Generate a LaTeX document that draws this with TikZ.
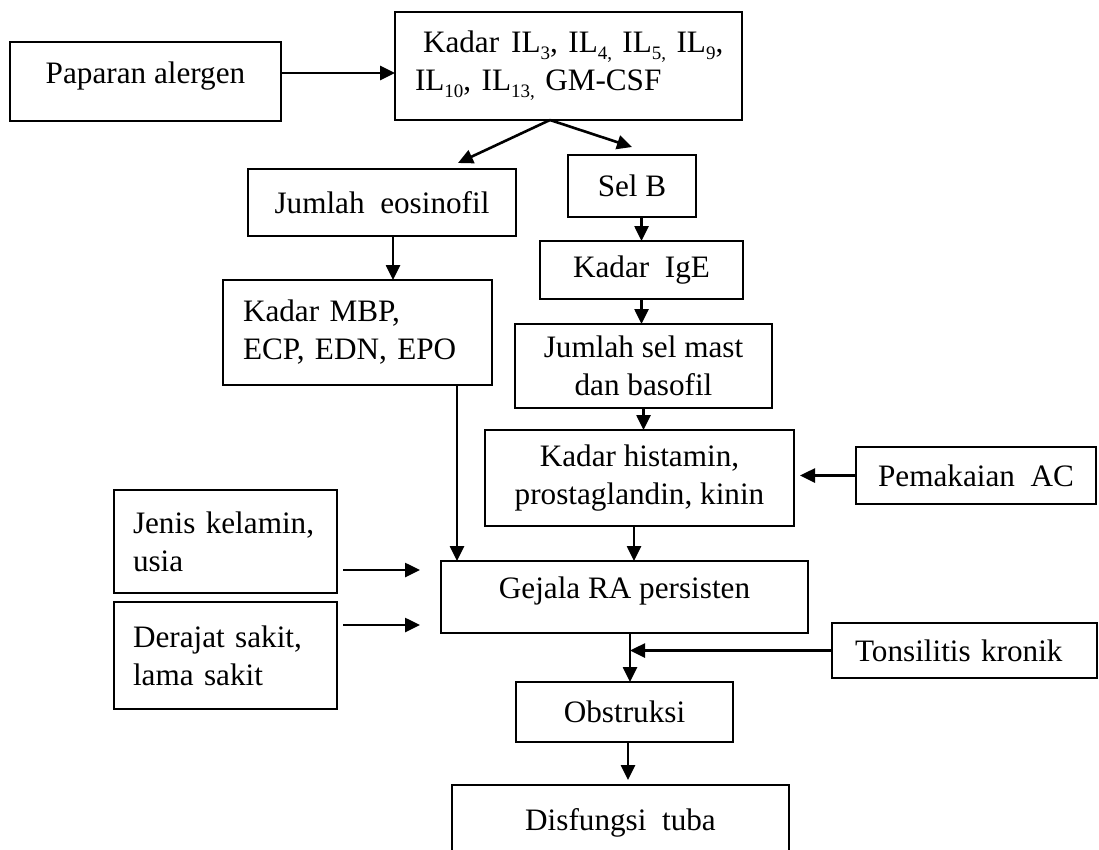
\documentclass[tikz,border=0pt]{standalone}
\usepackage{fontspec}
\setmainfont{Liberation Serif}
\usetikzlibrary{arrows.meta}
\newcommand{\ilsub}[1]{IL\raisebox{-0.22em}{\fontsize{19}{19}\selectfont #1}}

\begin{document}
\begin{tikzpicture}[x=1pt, y=-1pt,
                  every node/.style={font=\fontsize{31.2}{38}\selectfont, outer sep=0pt},
                  bx/.style={draw, line width=2.6pt, anchor=north west, inner sep=0pt},
                  lft/.style={bx, align=left},
                  arr/.style={-{Triangle[length=15pt, width=14pt]}, line width=2.6pt}]

    \useasboundingbox (0,0) rectangle (1099,849); % page size of the scan

    % top row
    \node[bx, minimum width=271pt, minimum height=79pt, text depth=18pt] (pap) at (10,42) {Paparan alergen};
    \node[lft, text width=307pt, inner xsep=20pt, minimum height=108pt] (kil) at (395,12)
        {\mbox{\hspace*{8pt}Kadar\hspace{12pt}\ilsub{3}, \ilsub{4,} \ilsub{5,} \ilsub{9},}\\
         \ilsub{10}, \ilsub{13,} GM-CSF};

    % left branch
    \node[bx, minimum width=268pt, minimum height=67pt] (eos) at (248,169) {Jumlah\ \ eosinofil};
    \node[lft, text width=229pt, inner xsep=20pt, minimum height=105pt] (mbp) at (223,280) {Kadar MBP,\\ ECP, EDN, EPO};

    % right branch
    \node[bx, minimum width=128pt, minimum height=62pt] (selb) at (568,155) {Sel B};
    \node[bx, minimum width=203pt, minimum height=58pt] (ige)  at (540,241) {Kadar\ \ IgE};
    \node[bx, minimum width=257pt, minimum height=84pt, align=center] (mast) at (515,324) {Jumlah sel mast\\ dan basofil};
    \node[bx, minimum width=309pt, minimum height=96pt, align=center] (hist) at (485,430) {Kadar histamin,\\ prostaglandin, kinin};
    \node[bx, minimum width=240pt, minimum height=57pt] (pac)  at (856,447) {Pemakaian\ \ AC};

    % bottom part
    \node[bx, minimum width=367pt, minimum height=72pt, text depth=18pt] (gej) at (441,561) {Gejala RA persisten};
    \node[lft, text width=185pt, inner xsep=19pt, minimum height=103pt] (jen) at (114,490) {Jenis kelamin,\\ usia};
    \node[lft, text width=185pt, inner xsep=19pt, minimum height=107pt] (der) at (114,602) {Derajat sakit,\\ lama sakit};
    \node[lft, text width=219pt, inner xsep=23pt, minimum height=55pt] (ton) at (832,623) {Tonsilitis kronik};
    \node[bx, minimum width=217pt, minimum height=60pt] (obs) at (516,682) {Obstruksi};
    \node[bx, minimum width=337pt, minimum height=75pt] (dis) at (452,785) {Disfungsi\ \ tuba}; % runs off the page

    \coordinate (g1) at ([yshift=27pt]gej.west);
    \coordinate (g2) at ([yshift=-28pt]gej.west);

    % arrows
    \draw[arr] ([yshift=8.5pt]pap.east) -- ([yshift=8.5pt]pap.east -| kil.west);
    \draw[arr] ([xshift=-18.5pt]kil.south) -- ([shift={(76,-6)}]eos.north);
    \draw[arr] ([xshift=-18.5pt]kil.south) -- ([yshift=8pt]selb.north);
    \draw[arr] ([xshift=11pt]eos.south) -- ([xshift=11pt]eos.south |- mbp.north);
    \draw[arr] (selb.south -| ige.north) -- (ige.north);
    \draw[arr] (ige.south) -- (ige.south |- mast.north);
    \draw[arr] (mast.south) -- (mast.south |- hist.north);
    \draw[arr] (pac.west) -- ([xshift=6pt]pac.west -| hist.east);
    \draw[arr] ([xshift=-5.5pt]hist.south) -- ([xshift=-5.5pt]hist.south |- gej.north);
    \draw[arr] ([xshift=16pt]gej.north west |- mbp.south) -- ([xshift=16pt]gej.north west);
    \draw[arr] ([xshift=6pt]jen.east |- g1) -- ([xshift=-21pt]g1);
    \draw[arr] ([xshift=6pt]der.east |- g2) -- ([xshift=-21pt]g2);
    \draw[arr] ([xshift=5.5pt]gej.south) -- ([xshift=5.5pt]gej.south |- obs.north);
    \draw[arr] (ton.west) -- ([xshift=5.5pt]gej.south |- ton.west);
    \draw[arr] ([xshift=3.5pt]obs.south) -- ([xshift=3.5pt, yshift=5pt]obs.south |- dis.north);

\end{tikzpicture}
\end{document}
